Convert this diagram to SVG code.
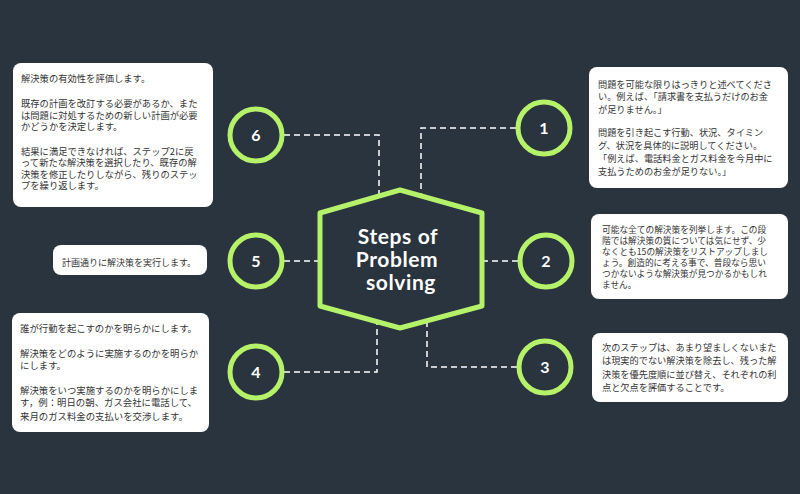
<svg xmlns="http://www.w3.org/2000/svg" width="800" height="494" viewBox="0 0 800 494">
<style>
.ring{fill:none;stroke:#b5f26a;stroke-width:5}
.num{font-family:Lato,"Liberation Sans",sans-serif;font-weight:bold;font-size:16px;fill:#ffffff;text-anchor:middle}
.box{fill:#ffffff}
.t{font-family:"Noto Sans CJK JP","Noto Sans",sans-serif;fill:#333333}
.conn{fill:none;stroke:#ffffff;stroke-width:1.5;stroke-dasharray:6 4}
.title{font-family:Lato,"Liberation Sans",sans-serif;font-weight:bold;font-size:21px;letter-spacing:0.6px;fill:#ffffff;text-anchor:middle}
</style>
<rect x="0" y="0" width="800" height="494" fill="#29343e"/>
<g id="connectors">
<path class="conn" d="M284,135 H379 V196"/>
<path class="conn" d="M516,128 H421 V196"/>
<path class="conn" d="M284,261 H320"/>
<path class="conn" d="M482,261 H518"/>
<path class="conn" d="M284,372 H377 V321"/>
<path class="conn" d="M517,367 H427 V321"/>
</g>
<g id="center">
<path d="M400,190 L482,213 L482,306 L400,328 L320,306 L320,213 Z" fill="#29343e" stroke="#b5f26a" stroke-width="5" stroke-linejoin="round"/>
<text class="title" x="398" y="244">Steps of</text>
<text class="title" x="397" y="267">Problem</text>
<text class="title" x="401" y="290">solving</text>
</g>
<g id="step1">
<circle class="ring" cx="544" cy="128" r="26"/>
<text class="num" x="544" y="134">1</text>
</g>
<g id="step2">
<circle class="ring" cx="546" cy="261" r="26"/>
<text class="num" x="546" y="267">2</text>
</g>
<g id="step3">
<circle class="ring" cx="545" cy="367" r="26"/>
<text class="num" x="545" y="373">3</text>
</g>
<g id="step4">
<circle class="ring" cx="256" cy="372" r="26"/>
<text class="num" x="256" y="378">4</text>
</g>
<g id="step5">
<circle class="ring" cx="256" cy="261" r="26"/>
<text class="num" x="256" y="267">5</text>
</g>
<g id="step6">
<circle class="ring" cx="256" cy="135" r="26"/>
<text class="num" x="256" y="141">6</text>
</g>
<g id="note1">
<rect class="box" x="589" y="67" width="199" height="121" rx="8"/>
<text class="t" font-size="9.2">
<tspan x="598" y="87.5">問題を可能な限りはっきりと述べてくださ</tspan>
<tspan x="598" y="100">い。例えば、「請求書を支払うだけのお金</tspan>
<tspan x="598" y="112.5">が足りません。」</tspan>
<tspan x="598" y="136">問題を引き起こす行動、状況、タイミン</tspan>
<tspan x="598" y="149">グ、状況を具体的に説明してください。</tspan>
<tspan x="598" y="162">「例えば、電話料金とガス料金を今月中に</tspan>
<tspan x="598" y="175">支払うためのお金が足りない。」</tspan>
</text>
</g>
<g id="note2">
<rect class="box" x="591" y="214" width="197" height="85" rx="8"/>
<text class="t" font-size="8.7">
<tspan x="602" y="233">可能な全ての解決策を列挙します。この段</tspan>
<tspan x="602" y="244">階では解決策の質については気にせず、少</tspan>
<tspan x="602" y="255">なくとも15の解決策をリストアップしまし</tspan>
<tspan x="602" y="266">ょう。創造的に考える事で、普段なら思い</tspan>
<tspan x="602" y="277">つかないような解決策が見つかるかもしれ</tspan>
<tspan x="602" y="288">ません。</tspan>
</text>
</g>
<g id="note3">
<rect class="box" x="592" y="333" width="196" height="69" rx="8"/>
<text class="t" font-size="9.2">
<tspan x="602" y="350.5">次のステップは、あまり望ましくないまた</tspan>
<tspan x="602" y="364">は現実的でない解決策を除去し、残った解</tspan>
<tspan x="602" y="377.5">決策を優先度順に並び替え、それぞれの利</tspan>
<tspan x="602" y="390.5">点と欠点を評価することです。</tspan>
</text>
</g>
<g id="note4">
<rect class="box" x="12" y="313" width="197" height="119" rx="8"/>
<text class="t" font-size="9.4">
<tspan x="20" y="331.5">誰が行動を起こすのかを明らかにします。</tspan>
<tspan x="20" y="356.5">解決策をどのように実施するのかを明らか</tspan>
<tspan x="20" y="368.5">にします。</tspan>
<tspan x="20" y="393.5">解決策をいつ実施するのかを明らかにしま</tspan>
<tspan x="20" y="406">す，例：明日の朝、ガス会社に電話して、</tspan>
<tspan x="20" y="419.5">来月のガス料金の支払いを交渉します。</tspan>
</text>
</g>
<g id="note5">
<rect class="box" x="53" y="245" width="154" height="30" rx="8"/>
<text class="t" font-size="9" x="62" y="265.5">計画通りに解決策を実行します。</text>
</g>
<g id="note6">
<rect class="box" x="13" y="63" width="200" height="144" rx="8"/>
<text class="t" font-size="9.3">
<tspan x="21" y="82">解決策の有効性を評価します。</tspan>
<tspan x="21" y="107">既存の計画を改訂する必要があるか、また</tspan>
<tspan x="21" y="118.5">は問題に対処するための新しい計画が必要</tspan>
<tspan x="21" y="130">かどうかを決定します。</tspan>
<tspan x="21" y="154.5">結果に満足できなければ、ステップ2に戻</tspan>
<tspan x="21" y="166">って新たな解決策を選択したり、既存の解</tspan>
<tspan x="21" y="177.5">決策を修正したりしながら、残りのステッ</tspan>
<tspan x="21" y="189">プを繰り返します。</tspan>
</text>
</g>
</svg>
